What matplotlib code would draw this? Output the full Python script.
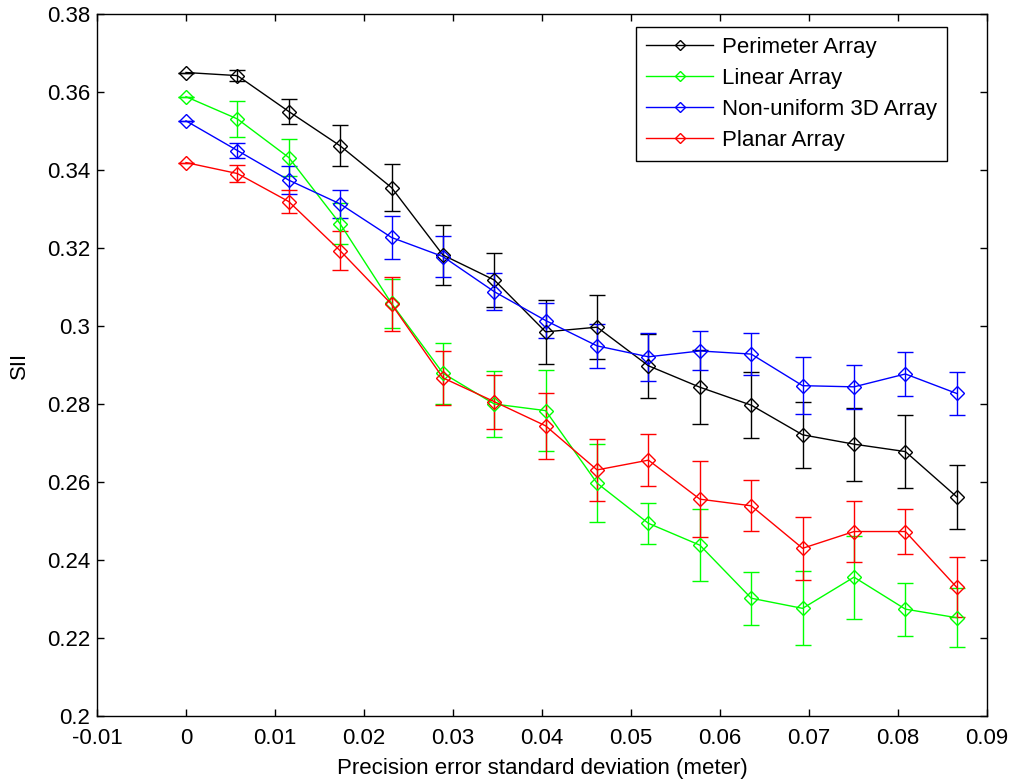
import matplotlib
matplotlib.use("Agg")
import matplotlib.pyplot as plt
from matplotlib.ticker import FormatStrFormatter, MultipleLocator

plt.rcParams["font.family"] = ["Liberation Sans", "DejaVu Sans"]

# precision error standard deviation (meter)
sigma = [0.0, 0.00577, 0.01155, 0.01732, 0.02309, 0.02887, 0.03464, 0.04041,
         0.04619, 0.05196, 0.05774, 0.06351, 0.06928, 0.07506, 0.08083, 0.0866]

perimeter = [0.3650, 0.3642, 0.3550, 0.3462, 0.3355, 0.3182, 0.3118, 0.2985,
             0.2997, 0.2898, 0.2843, 0.2797, 0.2721, 0.2697, 0.2678, 0.2562]
perimeter_err = [0.0, 0.0014, 0.0031, 0.0053, 0.0060, 0.0076, 0.0070, 0.0082,
                 0.0082, 0.0082, 0.0095, 0.0085, 0.0085, 0.0094, 0.0094, 0.0082]

linear = [0.3588, 0.3531, 0.3432, 0.3262, 0.3058, 0.2879, 0.2800, 0.2783,
          0.2597, 0.2494, 0.2438, 0.2302, 0.2276, 0.2356, 0.2274, 0.2252]
linear_err = [0.0, 0.0046, 0.0048, 0.0053, 0.0063, 0.0078, 0.0084, 0.0104,
              0.0100, 0.0052, 0.0092, 0.0068, 0.0095, 0.0106, 0.0068, 0.0076]

nonuniform = [0.3526, 0.3450, 0.3374, 0.3313, 0.3227, 0.3178, 0.3088, 0.3014,
              0.2949, 0.2921, 0.2936, 0.2928, 0.2847, 0.2844, 0.2877, 0.2827]
nonuniform_err = [0.0, 0.0020, 0.0036, 0.0035, 0.0056, 0.0053, 0.0047, 0.0044,
                  0.0057, 0.0061, 0.0050, 0.0053, 0.0073, 0.0056, 0.0056, 0.0054]

planar = [0.3419, 0.3391, 0.3319, 0.3193, 0.3056, 0.2867, 0.2806, 0.2744,
          0.2631, 0.2656, 0.2556, 0.2539, 0.2430, 0.2473, 0.2473, 0.2330]
planar_err = [0.0, 0.0023, 0.0029, 0.0050, 0.0070, 0.0069, 0.0069, 0.0085,
              0.0079, 0.0067, 0.0097, 0.0065, 0.0080, 0.0079, 0.0058, 0.0077]

series = [
    ("Perimeter Array", perimeter, perimeter_err, "#000000"),
    ("Linear Array", linear, linear_err, "#00ff00"),
    ("Non-uniform 3D Array", nonuniform, nonuniform_err, "#0000ff"),
    ("Planar Array", planar, planar_err, "#ff0000"),
]

FS = 16

fig = plt.figure(figsize=(10.16, 7.82), dpi=100)
ax = fig.add_axes([97 / 1016, 1 - 716 / 782, 890 / 1016, 702 / 782])

for label, vals, err, color in series:
    ax.errorbar(sigma, vals, yerr=err, color=color, lw=1.0, elinewidth=1.0,
                capsize=5.5, capthick=1.0, marker="D", markersize=7,
                markerfacecolor="none", markeredgecolor=color,
                markeredgewidth=1.0, label=label)

ax.set_xlim(-0.01, 0.09)
ax.set_ylim(0.2, 0.38)
ax.xaxis.set_major_locator(MultipleLocator(0.01))
ax.yaxis.set_major_locator(MultipleLocator(0.02))
ax.xaxis.set_major_formatter(FormatStrFormatter("%g"))
ax.yaxis.set_major_formatter(FormatStrFormatter("%g"))
ax.tick_params(direction="in", top=True, right=True, length=5, width=1,
               labelsize=FS)
ax.tick_params(axis="x", pad=9)
ax.tick_params(axis="y", pad=5)
for s in ax.spines.values():
    s.set_linewidth(1.0)

ax.set_xlabel("Precision error standard deviation (meter)", fontsize=FS, labelpad=6)
ax.set_ylabel("SII", fontsize=FS, labelpad=12)

# legend shows line + marker only, no error bars
handles, labels = ax.get_legend_handles_labels()
handles = [h[0] for h in handles]
leg = ax.legend(handles, labels, loc="upper right",
                bbox_to_anchor=(947 / 1016, 1 - 27 / 782),
                bbox_transform=fig.transFigure, borderaxespad=0,
                fontsize=FS, fancybox=False, framealpha=1, edgecolor="black",
                handlelength=3.0, handletextpad=0.4, labelspacing=0.45,
                borderpad=0.45, markerscale=0.75)
leg.get_frame().set_linewidth(1.0)

fig.savefig("out.png", dpi=100)
